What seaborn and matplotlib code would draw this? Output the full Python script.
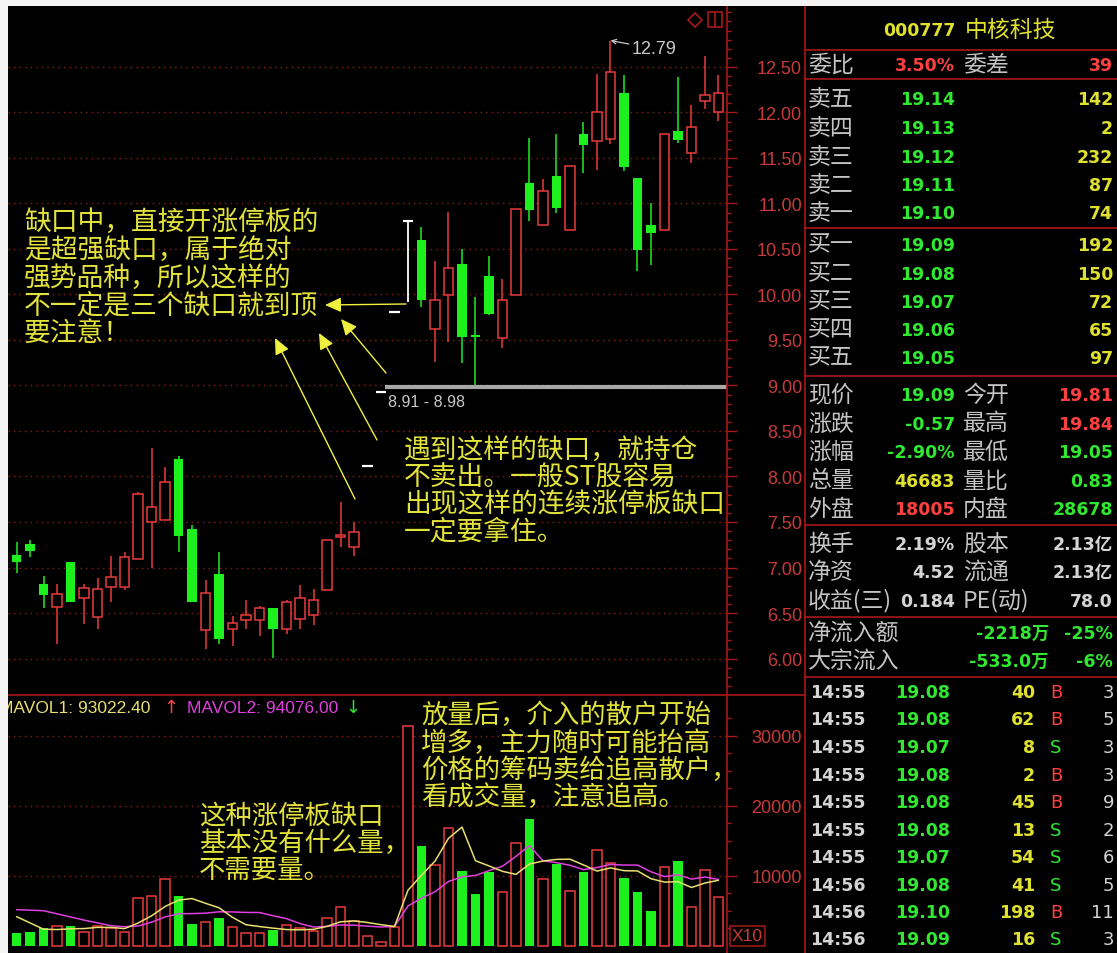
import numpy as np
import pandas as pd
import matplotlib
matplotlib.use("Agg")
import matplotlib.pyplot as plt
import seaborn as sns
from matplotlib.patches import Rectangle, Polygon

# ---------------- data ----------------
opens = [7.14, 7.26, 6.82, 6.57, 7.06, 6.67, 6.46, 6.79, 6.79, 7.09,
         7.50, 7.52, 8.19, 7.42, 6.31, 6.93, 6.32, 6.42, 6.42, 6.56,
         6.32, 6.43, 6.48, 6.75, 7.33, 7.23, 8.12, 8.93, 9.81, 10.81,
         10.60, 9.62, 9.99, 10.34, 9.54, 10.20, 9.52, 9.99, 11.23, 10.76,
         11.30, 10.71, 11.76, 11.69, 11.71, 12.21, 11.28, 10.76, 10.71, 11.80,
         11.56, 12.13, 12.01]
highs = [7.28, 7.30, 6.91, 6.82, 7.06, 6.82, 6.89, 7.13, 7.17, 7.83,
         8.31, 8.10, 8.23, 7.47, 6.86, 7.17, 6.47, 6.64, 6.58, 6.56,
         6.64, 6.81, 6.76, 7.30, 7.72, 7.50, 8.12, 8.93, 9.81, 10.81,
         10.74, 10.37, 10.91, 10.50, 9.97, 10.42, 10.17, 10.94, 11.72, 11.27,
         11.76, 11.41, 11.90, 12.42, 12.79, 12.41, 11.28, 11.01, 11.76, 12.39,
         12.08, 12.62, 12.41]
lows = [6.94, 7.11, 6.56, 6.16, 6.62, 6.38, 6.32, 6.62, 6.75, 7.09,
        7.00, 7.52, 7.17, 6.62, 6.10, 6.16, 6.14, 6.32, 6.25, 6.01,
        6.27, 6.32, 6.37, 6.75, 7.22, 7.13, 8.12, 8.93, 9.81, 9.92,
        9.86, 9.26, 9.48, 9.25, 8.96, 9.77, 9.41, 9.99, 10.81, 10.76,
        10.90, 10.71, 11.34, 11.37, 11.65, 11.36, 10.26, 10.32, 10.71, 11.66,
        11.45, 12.04, 11.91]
closes = [7.06, 7.18, 6.70, 6.71, 6.62, 6.77, 6.76, 6.90, 7.12, 7.81,
          7.67, 7.94, 7.35, 6.62, 6.72, 6.21, 6.39, 6.48, 6.56, 6.32,
          6.62, 6.66, 6.64, 7.30, 7.35, 7.39, 8.12, 8.93, 9.81, 10.81,
          9.94, 9.94, 10.29, 9.53, 9.53, 9.79, 9.94, 10.94, 10.93, 11.14,
          10.95, 11.41, 11.64, 12.00, 12.45, 11.40, 10.49, 10.68, 11.76, 11.70,
          11.84, 12.19, 12.21]
volumes = [1860, 2040, 2570, 2900, 2900, 2040, 2900, 2570, 2000, 6860,
           7190, 9570, 7140, 3140, 3470, 4000, 2710, 1860, 1860, 2330,
           3000, 2520, 2200, 4000, 5570, 3610, 1430, 620, 2710, 31470,
           14290, 11570, 16860, 10760, 7430, 10570, 7710, 14710, 18140, 9570,
           11710, 7900, 10570, 13760, 11860, 9710, 7710, 5040, 11330, 12140,
           5570, 10900, 7000]
# moving-average values before a full window exists
ma5_head = [4200, 3300, 2400, 2350]
ma10_head = [5190, 5120, 5040, 4600, 4150, 3700, 3300, 2900, 2750]

price_ticks = [6.00, 6.50, 7.00, 7.50, 8.00, 8.50, 9.00, 9.50, 10.00,
               10.50, 11.00, 11.50, 12.00, 12.50]
vol_ticks = [10000, 20000, 30000]
gap_low, gap_high = 8.91, 8.98
peak_label = "12.79"
mavol1_label = "MAVOL1: 93022.40"
mavol2_label = "MAVOL2: 94076.00"

# quote panel
stock_code = "000777"
stock_name = "中核科技"
weibi = ("委比", "3.50%", "委差", "39")
sell_names = ["卖五", "卖四", "卖三", "卖二", "卖一"]
sell_prices = ["19.14", "19.13", "19.12", "19.11", "19.10"]
sell_vols = ["142", "2", "232", "87", "74"]
buy_names = ["买一", "买二", "买三", "买四", "买五"]
buy_prices = ["19.09", "19.08", "19.07", "19.06", "19.05"]
buy_vols = ["192", "150", "72", "65", "97"]
quote_labels1 = ["现价", "涨跌", "涨幅", "总量", "外盘"]
quote_values1 = ["19.09", "-0.57", "-2.90%", "46683", "18005"]
quote_labels2 = ["今开", "最高", "最低", "量比", "内盘"]
quote_values2 = ["19.81", "19.84", "19.05", "0.83", "28678"]
info_labels1 = ["换手", "净资", "收益(三)"]
info_values1 = ["2.19%", "4.52", "0.184"]
info_labels2 = ["股本", "流通", "PE(动)"]
info_values2 = ["2.13亿", "2.13亿", "78.0"]
flow_labels = ["净流入额", "大宗流入"]
flow_amounts = ["-2218万", "-533.0万"]
flow_pcts = ["-25%", "-6%"]
trade_times = ["14:55"] * 7 + ["14:56"] * 3
trade_prices = ["19.08", "19.08", "19.07", "19.08", "19.08", "19.08", "19.07", "19.08", "19.10", "19.09"]
trade_vols = ["40", "62", "8", "2", "45", "13", "54", "41", "198", "16"]
trade_sides = ["B", "B", "S", "B", "B", "S", "S", "S", "B", "S"]
trade_counts = ["3", "5", "3", "3", "9", "2", "6", "5", "11", "3"]

notes_left = ["缺口中，直接开涨停板的", "是超强缺口，属于绝对", "强势品种，所以这样的",
              "不一定是三个缺口就到顶", "要注意！"]
notes_mid = ["遇到这样的缺口，就持仓", "不卖出。一般ST股容易",
             "出现这样的连续涨停板缺口", "一定要拿住。"]
notes_vol_left = ["这种涨停板缺口", "基本没有什么量，", "不需要量。"]
notes_vol_right = ["放量后，介入的散户开始", "增多，主力随时可能抬高",
                   "价格的筹码卖给追高散户，", "看成交量，注意追高。"]

# ---------------- style ----------------
W, H = 1117, 954
sns.set_theme(style="dark", rc={"axes.facecolor": "black", "figure.facecolor": "black",
                                "savefig.facecolor": "black", "axes.edgecolor": "black"})
plt.rcParams["font.family"] = ["Liberation Sans", "Noto Sans CJK SC", "DejaVu Sans"]
CJK = ["Noto Sans CJK SC", "DejaVu Sans"]
NUM = ["DejaVu Sans", "Noto Sans CJK SC"]

RED = "#e83c3c"
GREEN = "#1ef01e"
LINE_RED = "#a81818"
GRID_RED = "#8c1c1c"
AXIS_TXT = "#c83a3a"
NOTE_Y = "#e2e23c"
ARROW_Y = "#f0f040"
MA5_C = "#e8e070"
MA10_C = "#e040e0"
T_GREEN = "#30e830"
T_RED = "#ff4040"
T_YEL = "#e0e030"
T_GRAY = "#d4d4d4"
T_LABEL = "#c4c4c4"

fig = plt.figure(figsize=(W / 100, H / 100), dpi=100)

def frac(x0, y0, x1, y1):
    return [x0 / W, 1 - y1 / H, (x1 - x0) / W, (y1 - y0) / H]

axp = fig.add_axes(frac(8, 7, 727, 696))
axv = fig.add_axes(frac(8, 696, 727, 954))

n = len(opens)
idx = np.arange(n)
o = np.array(opens); h = np.array(highs); l = np.array(lows); c = np.array(closes)
up = c > o
dn = c < o
flat = c == o
blo = np.minimum(o, c)
bhi = np.maximum(o, c)
bh = np.maximum(bhi - blo, 0.025)
BW = 0.72

# ---------------- price panel ----------------
axp.vlines(idx[up], bhi[up], h[up], color=RED, lw=1.1, zorder=3)
axp.vlines(idx[up], l[up], blo[up], color=RED, lw=1.1, zorder=3)
axp.bar(idx[up], bh[up], bottom=blo[up], width=BW, facecolor="black",
        edgecolor=RED, lw=1.1, zorder=4)
axp.vlines(idx[dn], l[dn], h[dn], color=GREEN, lw=1.1, zorder=3)
axp.bar(idx[dn], bh[dn], bottom=blo[dn], width=BW, color=GREEN, lw=0, zorder=4)
axp.vlines(idx[flat], l[flat], h[flat], color="white", lw=1.3, zorder=3)
axp.hlines(c[flat], idx[flat] - 0.4, idx[flat] + 0.4, color="white", lw=1.6, zorder=4)

# gap marker
gap_start = int(np.argmax(flat)) + 1.3
axp.hlines(gap_high, gap_start, n + 1, color="#a8a8a8", lw=3.0, zorder=5)
axp.text(gap_start + 0.2, gap_high - 0.16, f"{gap_low:.2f} - {gap_high:.2f}", color="#c8c8c8",
         fontsize=11.5, ha="left", va="center", zorder=6)
# highest point label
ip = int(np.argmax(h))
axp.annotate(peak_label, xy=(ip, h[ip]), xytext=(ip + 1.6, h[ip] - 0.09),
             color="#c8c8c8", fontsize=13, va="center", ha="left",
             arrowprops=dict(arrowstyle="->", color="#c8c8c8", lw=0.9,
                             shrinkA=0, shrinkB=0, mutation_scale=8))

axp.set_xlim(-0.63, 52.63)
axp.set_ylim(5.599, 13.170)
axp.set_xticks([])
axp.yaxis.tick_right()
axp.set_yticks(price_ticks)
axp.set_yticklabels([f"{t:.2f}" for t in price_ticks])
axp.set_yticks(np.arange(5.7, 13.15, 0.1), minor=True)
axp.tick_params(axis="y", which="major", direction="out", length=7, width=1,
                color=LINE_RED, labelcolor=AXIS_TXT, labelsize=13, pad=47)
axp.tick_params(axis="y", which="minor", direction="out", length=3, width=1, color=LINE_RED)
plt.setp(axp.get_yticklabels(), ha="right")
axp.yaxis.grid(True, which="major", color=GRID_RED, linestyle=(0, (1, 3)), lw=1)
axp.xaxis.grid(False)
for s in axp.spines.values():
    s.set_visible(False)

# ---------------- volume panel ----------------
vol = np.array(volumes, dtype=float)
vup = c >= o
axv.bar(idx[vup], vol[vup], width=BW, facecolor="black", edgecolor=RED, lw=1.1, zorder=3)
axv.bar(idx[~vup], vol[~vup], width=BW, color=GREEN, lw=0, zorder=3)

ma5 = pd.Series(vol).rolling(5).mean()
ma5.iloc[:len(ma5_head)] = ma5_head
ma10 = pd.Series(vol).rolling(10).mean()
ma10.iloc[:len(ma10_head)] = ma10_head
dfm = pd.DataFrame({"slot": idx, "MAVOL1": ma5.values, "MAVOL2": ma10.values})
sns.lineplot(data=dfm, x="slot", y="MAVOL2", ax=axv, color=MA10_C, lw=1.1, zorder=5, legend=False)
sns.lineplot(data=dfm, x="slot", y="MAVOL1", ax=axv, color=MA5_C, lw=1.1, zorder=6, legend=False)
axv.set_xlabel("")
axv.set_ylabel("")
axv.set_xlim(-0.63, 52.63)
axv.set_ylim(-1000, 35857)
axv.set_xticks([])
axv.yaxis.tick_right()
axv.set_yticks(vol_ticks)
axv.set_yticklabels([str(t) for t in vol_ticks])
axv.set_yticks(np.arange(2500, 35000, 2500), minor=True)
axv.tick_params(axis="y", which="major", direction="out", length=7, width=1,
                color=LINE_RED, labelcolor=AXIS_TXT, labelsize=13, pad=47)
axv.tick_params(axis="y", which="minor", direction="out", length=3, width=1, color=LINE_RED)
plt.setp(axv.get_yticklabels(), ha="right")
axv.yaxis.grid(True, which="major", color=GRID_RED, linestyle=(0, (1, 3)), lw=1)
axv.xaxis.grid(False)
for s in axv.spines.values():
    s.set_visible(False)

# ---------------- overlay (frame, notes, quote panel) ----------------
ov = fig.add_axes([0, 0, 1, 1])
ov.set_xlim(0, W)
ov.set_ylim(H, 0)
ov.axis("off")
ov.set_zorder(10)

# frame lines
ov.plot([727, 727], [7, H], color=LINE_RED, lw=1.2)
ov.plot([805, 805], [7, H], color=LINE_RED, lw=1.2)
ov.plot([8, 805], [696, 696], color=LINE_RED, lw=1.2)
for yy in [51, 80, 229, 377, 526, 618, 678]:
    ov.plot([805, W], [yy, yy], color=LINE_RED, lw=1.2)
# top icons
ov.add_patch(Polygon([[695, 14], [702, 21], [695, 28], [688, 21]], closed=True, fill=False,
                     edgecolor=LINE_RED, lw=1.2))
ov.add_patch(Rectangle((708, 13), 14, 15, fill=False, edgecolor=LINE_RED, lw=1.2))
ov.plot([715, 715], [13, 28], color=LINE_RED, lw=1.2)
# X10 box
ov.add_patch(Rectangle((730, 927), 35, 20, fill=False, edgecolor=LINE_RED, lw=1.1))
ov.text(747.5, 937, "X10", color=AXIS_TXT, fontsize=12.5, ha="center", va="center")

# MAVOL header
ov.text(-1, 709, mavol1_label, color=MA5_C, fontsize=12.5, ha="left", va="center")
ov.text(163, 708, "↑", color=T_RED, fontsize=13, ha="left", va="center", family=["DejaVu Sans"])
ov.text(187, 709, mavol2_label, color=MA10_C, fontsize=12.5, ha="left", va="center")
ov.text(345, 708, "↓", color=T_GREEN, fontsize=13, ha="left", va="center", family=["DejaVu Sans"])

# annotation notes
def note(lines, x, ys, size=19.3):
    for s, yy in zip(lines, ys):
        ov.text(x, yy, s, color=NOTE_Y, fontsize=size, ha="left", va="center", family=CJK)

note(notes_left, 24, [222, 250, 278, 306, 334])
note(notes_mid, 404, [450, 478, 505, 532])
note(notes_vol_left, 199, [816, 843, 870], size=19)
note(notes_vol_right, 421, [715, 743, 770, 797], size=19)

arrows = [((406, 305), (325, 306)), ((386, 374), (341, 320)),
          ((377, 441), (319, 334)), ((355, 500), (275, 339))]
for tail, tip in arrows:
    ov.annotate("", xy=tip, xytext=tail,
                arrowprops=dict(arrowstyle="-|>,head_length=0.7,head_width=0.32",
                                color=ARROW_Y, lw=1.0, shrinkA=0, shrinkB=0, mutation_scale=14))

# quote panel
LX, V1, L2, V2 = 808, 955, 963, 1113
def lab(x, y, s, color=T_LABEL, ha="left"):
    ov.text(x, y, s, color=color, fontsize=16.5, ha=ha, va="center", family=CJK)
def num(x, y, s, color, ha="right", bold=True, size=12.5):
    ov.text(x, y, s, color=color, fontsize=size, ha=ha, va="center",
            fontweight="bold" if bold else "normal", family=NUM)

num(883, 31, stock_code, T_YEL, ha="left")
lab(965, 30, stock_name, color=T_YEL)

lab(LX, 65, weibi[0]); num(V1, 66, weibi[1], T_RED); lab(L2, 65, weibi[2]); num(V2, 66, weibi[3], T_RED)

for k, yy in enumerate([99, 128, 157, 185, 213]):
    lab(LX, yy, sell_names[k]); num(V1, yy + 1, sell_prices[k], T_GREEN); num(V2, yy + 1, sell_vols[k], T_YEL)
for k, yy in enumerate([245, 274, 302, 330, 358]):
    lab(LX, yy, buy_names[k]); num(V1, yy + 1, buy_prices[k], T_GREEN); num(V2, yy + 1, buy_vols[k], T_YEL)

qc1 = [T_GREEN, T_GREEN, T_GREEN, T_YEL, T_RED]
qc2 = [T_RED, T_RED, T_GREEN, T_GREEN, T_GREEN]
for k, yy in enumerate([395, 424, 452, 481, 509]):
    lab(LX, yy, quote_labels1[k]); num(V1, yy + 1, quote_values1[k], qc1[k])
    lab(L2, yy, quote_labels2[k]); num(V2, yy + 1, quote_values2[k], qc2[k])
for k, yy in enumerate([544, 572, 601]):
    lab(LX, yy, info_labels1[k]); num(V1, yy + 1, info_values1[k], T_GRAY)
    lab(L2, yy, info_labels2[k]); num(V2, yy + 1, info_values2[k], T_GRAY)
for k, yy in enumerate([633, 661]):
    lab(LX, yy, flow_labels[k]); num(1049, yy + 1, flow_amounts[k], T_GREEN); num(V2, yy + 1, flow_pcts[k], T_GREEN)

trade_ys = [693, 720, 748, 776, 803, 831, 858, 886, 913, 940]
for k, yy in enumerate(trade_ys):
    num(810, yy, trade_times[k], T_GRAY, ha="left")
    num(950, yy, trade_prices[k], T_GREEN)
    num(1035, yy, trade_vols[k], T_YEL)
    num(1056, yy, trade_sides[k], T_RED if trade_sides[k] == "B" else T_GREEN, ha="center", bold=False, size=13)
    num(1114, yy, trade_counts[k], T_GRAY, bold=False, size=13)

# white outer border (top and left)
ov.add_patch(Rectangle((0, 0), W, 7, facecolor="#f4f4f4", edgecolor="none", zorder=20))
ov.add_patch(Rectangle((0, 0), 8, H, facecolor="#f4f4f4", edgecolor="none", zorder=20))

fig.savefig("out.png", dpi=100)
